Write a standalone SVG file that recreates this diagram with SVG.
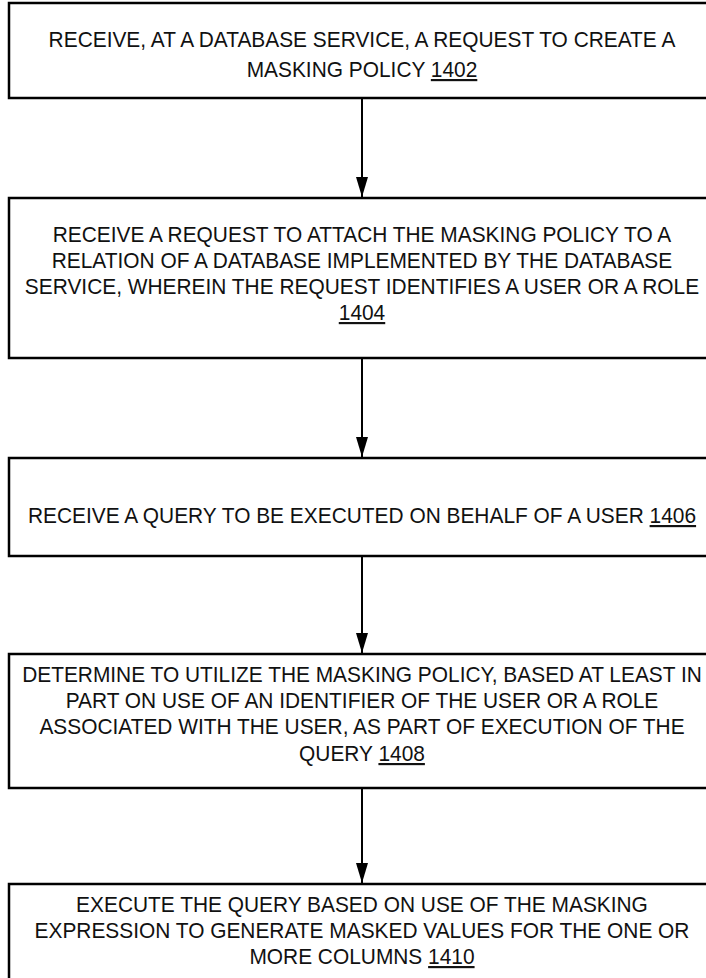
<svg xmlns="http://www.w3.org/2000/svg" width="706" height="978" viewBox="0 0 706 978">
<style>
.box{fill:#fff;stroke:#000;stroke-width:2.5}
.t{font-family:"Liberation Sans",Arial,sans-serif;font-size:21.5px;fill:#111;text-anchor:middle}
.u{text-decoration:underline}
.conn line{stroke:#000;stroke-width:2}
</style>
<defs>
<marker id="ah" markerUnits="userSpaceOnUse" markerWidth="20" markerHeight="12" refX="20" refY="6" orient="auto" viewBox="0 0 20 12">
<path d="M0,0 L20,6 L0,12 Z" fill="#000"/>
</marker>
</defs>
<rect width="706" height="978" fill="#fff"/>
<g id="n1402">
<rect class="box" x="9" y="3" width="720" height="95"/>
<g transform="matrix(0.972,0,0,1,10.14,0)">
<text class="t" x="362" y="47">RECEIVE, AT A DATABASE SERVICE, A REQUEST TO CREATE A</text>
<text class="t" x="362" y="77">MASKING POLICY <tspan class="u">1402</tspan></text>
</g>
</g>
<g id="n1404">
<rect class="box" x="9" y="198" width="720" height="160"/>
<g transform="matrix(0.972,0,0,1,10.14,0)">
<text class="t" x="362" y="242">RECEIVE A REQUEST TO ATTACH THE MASKING POLICY TO A</text>
<text class="t" x="362" y="268">RELATION OF A DATABASE IMPLEMENTED BY THE DATABASE</text>
<text class="t" x="362" y="294">SERVICE, WHEREIN THE REQUEST IDENTIFIES A USER OR A ROLE</text>
<text class="t" x="362" y="320"><tspan class="u">1404</tspan></text>
</g>
</g>
<g id="n1406">
<rect class="box" x="9" y="458" width="720" height="98"/>
<g transform="matrix(0.972,0,0,1,10.14,0)">
<text class="t" x="362" y="523">RECEIVE A QUERY TO BE EXECUTED ON BEHALF OF A USER <tspan class="u">1406</tspan></text>
</g>
</g>
<g id="n1408">
<rect class="box" x="9" y="654" width="720" height="134"/>
<g transform="matrix(0.972,0,0,1,10.14,0)">
<text class="t" x="362" y="682">DETERMINE TO UTILIZE THE MASKING POLICY, BASED AT LEAST IN</text>
<text class="t" x="362" y="708">PART ON USE OF AN IDENTIFIER OF THE USER OR A ROLE</text>
<text class="t" x="362" y="734">ASSOCIATED WITH THE USER, AS PART OF EXECUTION OF THE</text>
<text class="t" x="362" y="761">QUERY <tspan class="u">1408</tspan></text>
</g>
</g>
<g id="n1410">
<rect class="box" x="9" y="884" width="720" height="110"/>
<g transform="matrix(0.972,0,0,1,10.14,0)">
<text class="t" x="362" y="912">EXECUTE THE QUERY BASED ON USE OF THE MASKING</text>
<text class="t" x="362" y="938">EXPRESSION TO GENERATE MASKED VALUES FOR THE ONE OR</text>
<text class="t" x="362" y="964">MORE COLUMNS <tspan class="u">1410</tspan></text>
</g>
</g>
<g id="connectors" class="conn">
<line x1="362" y1="99" x2="362" y2="197" marker-end="url(#ah)"/>
<line x1="362" y1="359" x2="362" y2="457" marker-end="url(#ah)"/>
<line x1="362" y1="557" x2="362" y2="653" marker-end="url(#ah)"/>
<line x1="362" y1="789" x2="362" y2="883" marker-end="url(#ah)"/>
</g>
</svg>
